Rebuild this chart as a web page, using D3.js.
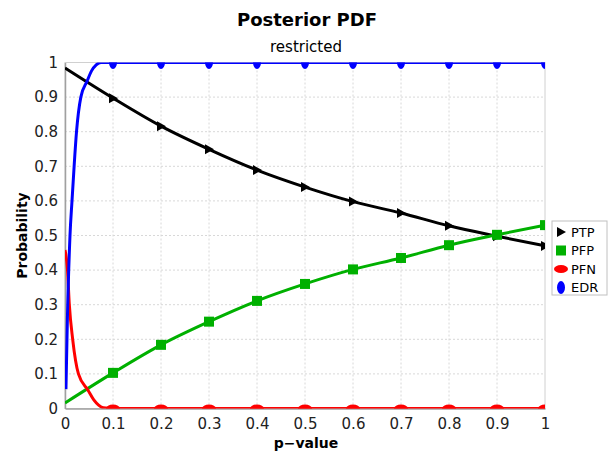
<!doctype html>
<html>
<head>
<meta charset="utf-8">
<title>Posterior PDF</title>
<style>
  body { margin: 0; background: #fff; }
  svg { font-family: "DejaVu Sans", sans-serif; }
</style>
</head>
<body>
<svg id="chart"></svg>
<script src="https://cdn.jsdelivr.net/npm/d3@7"></script>
<script>
// values
const pValues = [0, 0.1, 0.2, 0.3, 0.4, 0.5, 0.6, 0.7, 0.8, 0.9, 1.0];
const ptp = [0.984, 0.897, 0.816, 0.749, 0.689, 0.640, 0.598, 0.565, 0.528, 0.498, 0.470];
const pfp = [0.016, 0.103, 0.184, 0.251, 0.311, 0.360, 0.402, 0.435, 0.472, 0.502, 0.530];
// steep parts near p = 0
const edrP = [0.002, 0.005, 0.0104, 0.0146, 0.019, 0.024, 0.033, 0.046, 0.055, 0.065, 0.075, 0.1, 0.2, 0.3, 0.4, 0.5, 0.6, 0.7, 0.8, 0.9, 1.0];
const edr  = [0.056, 0.26, 0.50, 0.60, 0.70, 0.80, 0.90, 0.946, 0.975, 0.993, 1.0, 1, 1, 1, 1, 1, 1, 1, 1, 1, 1];
const pfnP = [0, 0.005, 0.009, 0.016, 0.028, 0.048, 0.06, 0.07, 0.08, 0.1, 0.2, 0.3, 0.4, 0.5, 0.6, 0.7, 0.8, 0.9, 1.0];
const pfn  = [0.458, 0.405, 0.30, 0.20, 0.10, 0.053, 0.025, 0.01, 0.002, 0, 0, 0, 0, 0, 0, 0, 0, 0, 0];
const markerP = [0.1, 0.2, 0.3, 0.4, 0.5, 0.6, 0.7, 0.8, 0.9, 1.0];
const seriesNames = ["PTP", "PFP", "PFN", "EDR"];
const seriesColors = ["#000000", "#00b000", "#ff0000", "#0000ff"];
const xTicks = [0, 0.1, 0.2, 0.3, 0.4, 0.5, 0.6, 0.7, 0.8, 0.9, 1];
const yTicks = [0, 0.1, 0.2, 0.3, 0.4, 0.5, 0.6, 0.7, 0.8, 0.9, 1];

const width = 615, height = 455;
const margin = {left: 65, right: 70, top: 62.5, bottom: 46.5};
const svg = d3.select("#chart").attr("width", width).attr("height", height);

const x = d3.scaleLinear().domain([0, 1]).range([margin.left, width - margin.right]);
const y = d3.scaleLinear().domain([0, 1]).range([height - margin.bottom, margin.top]);

svg.append("text")
    .attr("x", 307).attr("y", 25.5)
    .attr("text-anchor", "middle")
    .attr("font-size", 18).attr("font-weight", "bold")
    .text("Posterior PDF");
svg.append("text")
    .attr("x", 306).attr("y", 51.5)
    .attr("text-anchor", "middle")
    .attr("font-size", 15)
    .text("restricted");

// grid
const grid = svg.append("g").attr("stroke", "#d8d8d8").attr("stroke-dasharray", "2,2").attr("stroke-width", 1);
grid.selectAll(".gx").data(xTicks.slice(1, -1)).join("line")
    .attr("x1", d => x(d)).attr("x2", d => x(d))
    .attr("y1", y(0)).attr("y2", y(1));
grid.selectAll(".gy").data(yTicks.slice(1, -1)).join("line")
    .attr("x1", x(0)).attr("x2", x(1))
    .attr("y1", d => y(d)).attr("y2", d => y(d));

svg.append("rect")
    .attr("x", x(0)).attr("y", y(1))
    .attr("width", x(1) - x(0)).attr("height", y(0) - y(1))
    .attr("fill", "none").attr("stroke", "#d0d0d0");

// axes
const xAxis = svg.append("g")
    .attr("transform", `translate(0,${y(0)})`)
    .call(d3.axisBottom(x).tickValues(xTicks).tickFormat(d3.format("~g")).tickSize(0).tickPadding(9));
const yAxis = svg.append("g")
    .attr("transform", `translate(${x(0)},0)`)
    .call(d3.axisLeft(y).tickValues(yTicks).tickFormat(d3.format("~g")).tickSize(0).tickPadding(7));
[xAxis, yAxis].forEach(a => {
    a.select(".domain").attr("stroke", "#a0a0a0").attr("stroke-width", 1.5);
    a.selectAll("text").attr("font-size", 15).attr("fill", "#222").attr("font-family", "DejaVu Sans, sans-serif");
});
xAxis.selectAll("text").attr("dy", "0.75em");

svg.append("text")
    .attr("x", 306).attr("y", 448)
    .attr("text-anchor", "middle")
    .attr("font-size", 14).attr("font-weight", "bold")
    .text("p\u2212value");
svg.append("text")
    .attr("transform", `translate(27,${(y(0) + y(1)) / 2}) rotate(-90)`)
    .attr("text-anchor", "middle")
    .attr("font-size", 14).attr("font-weight", "bold")
    .text("Probability");

// plot
svg.append("clipPath").attr("id", "clip")
    .append("rect")
    .attr("x", x(0)).attr("y", y(1))
    .attr("width", x(1) - x(0)).attr("height", y(0) - y(1));
const plot = svg.append("g").attr("clip-path", "url(#clip)");

const line = d3.line().x(d => x(d[0])).y(d => y(d[1])).curve(d3.curveMonotoneX);
const lineData = [
    d3.zip(pValues, ptp),
    d3.zip(pValues, pfp),
    d3.zip(pfnP, pfn),
    d3.zip(edrP, edr)
];
lineData.forEach((pts, i) => {
    plot.append("path")
        .datum(pts)
        .attr("fill", "none")
        .attr("stroke", seriesColors[i])
        .attr("stroke-width", 3)
        .attr("d", line);
});

const lookup = (xs, ys, p) => ys[xs.findIndex(v => Math.abs(v - p) < 1e-9)];
function drawMarker(g, i, cx, cy) {
    if (i === 0) {
        g.append("path").attr("d", `M${cx - 4},${cy - 5}L${cx + 5},${cy}L${cx - 4},${cy + 5}Z`).attr("fill", seriesColors[i]);
    } else if (i === 1) {
        g.append("rect").attr("x", cx - 5).attr("y", cy - 5).attr("width", 10).attr("height", 10).attr("fill", seriesColors[i]);
    } else if (i === 2) {
        g.append("ellipse").attr("cx", cx).attr("cy", cy).attr("rx", 7).attr("ry", 4).attr("fill", seriesColors[i]);
    } else {
        g.append("ellipse").attr("cx", cx).attr("cy", cy).attr("rx", 4).attr("ry", 6.5).attr("fill", seriesColors[i]);
    }
}
markerP.forEach(p => {
    drawMarker(plot, 0, x(p), y(lookup(pValues, ptp, p)));
    drawMarker(plot, 1, x(p), y(lookup(pValues, pfp, p)));
    drawMarker(plot, 2, x(p), y(lookup(pfnP, pfn, p)));
    drawMarker(plot, 3, x(p), y(lookup(edrP, edr, p)));
});

// legend
const legend = svg.append("g").attr("transform", "translate(552,221)");
legend.append("rect")
    .attr("width", 55).attr("height", 74)
    .attr("fill", "#fff").attr("stroke", "#c0c0c0");
seriesNames.forEach((name, i) => {
    const cy = 11 + i * 18.5;
    drawMarker(legend, i, 9, cy);
    legend.append("text")
        .attr("x", 19).attr("y", cy).attr("dy", "0.36em")
        .attr("font-size", 13)
        .text(name);
});
</script>
</body>
</html>
